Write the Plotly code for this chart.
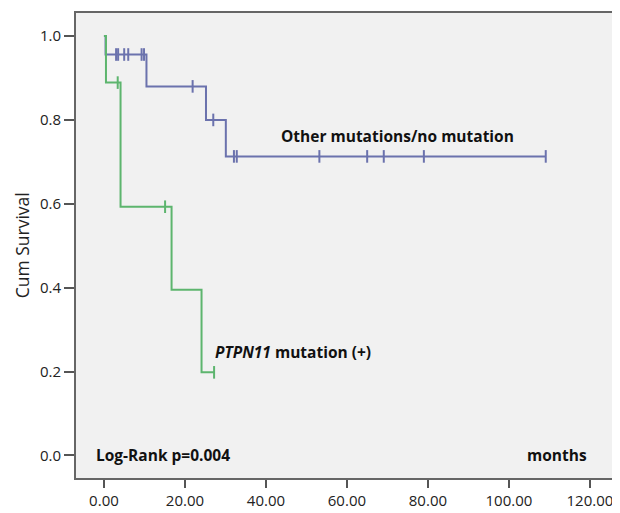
import plotly.graph_objects as go

# ---- data ----
other_times = [0, 0.4, 10.5, 25.2, 30.1, 109.1]
other_surv = [1.0, 0.956, 0.880, 0.800, 0.713, 0.713]
other_censor_times = [3.0, 3.5, 5.0, 6.0, 9.3, 9.9, 21.9, 27.0, 32.1, 32.8,
                      53.2, 65.0, 69.1, 79.0, 109.1]

ptpn_times = [0, 0.5, 4.1, 16.7, 24.1, 27.2]
ptpn_surv = [1.0, 0.889, 0.593, 0.395, 0.198, 0.198]
ptpn_censor_times = [3.4, 15.1, 27.2]

x_tickvals = [0, 20, 40, 60, 80, 100, 120]
x_ticktext = ["0.00", "20.00", "40.00", "60.00", "80.00", "100.00", "120.00"]
y_tickvals = [0.0, 0.2, 0.4, 0.6, 0.8, 1.0]
y_ticktext = ["0.0", "0.2", "0.4", "0.6", "0.8", "1.0"]


def surv_at(times, surv, t):
    s = surv[0]
    for ti, si in zip(times, surv):
        if ti <= t:
            s = si
    return s


BLUE = "#6b72ad"
GREEN = "#5db56e"
FONT = "Open Sans"

fig = go.Figure()
fig.add_trace(go.Scatter(x=other_times, y=other_surv, mode="lines",
                         line=dict(color=BLUE, width=2, shape="hv"),
                         showlegend=False, hoverinfo="skip"))
fig.add_trace(go.Scatter(x=other_censor_times,
                         y=[surv_at(other_times, other_surv, t) for t in other_censor_times],
                         mode="markers",
                         marker=dict(symbol="line-ns", size=9,
                                     line=dict(color=BLUE, width=2)),
                         showlegend=False))
fig.add_trace(go.Scatter(x=ptpn_times, y=ptpn_surv, mode="lines",
                         line=dict(color=GREEN, width=2, shape="hv"),
                         showlegend=False, hoverinfo="skip"))
fig.add_trace(go.Scatter(x=ptpn_censor_times,
                         y=[surv_at(ptpn_times, ptpn_surv, t) for t in ptpn_censor_times],
                         mode="markers",
                         marker=dict(symbol="line-ns", size=9,
                                     line=dict(color=GREEN, width=2)),
                         showlegend=False))

ann_font = dict(family=FONT, size=15.5, color="#111", weight="bold")
fig.add_annotation(x=43.3, y=0.761, xref="x", yref="y", text="Other mutations/no mutation",
                   showarrow=False, xanchor="left", yanchor="middle", font=ann_font)
fig.add_annotation(x=27.0, y=0.247, xref="x", yref="y",
                   text="<i>PTPN11</i> mutation (+)",
                   showarrow=False, xanchor="left", yanchor="middle", font=ann_font)
fig.add_annotation(x=-2.4, y=0.0, xref="x", yref="y", text="Log-Rank p=0.004",
                   showarrow=False, xanchor="left", yanchor="middle", font=ann_font)
fig.add_annotation(x=119.8, y=0.0, xref="x", yref="y", text="months",
                   showarrow=False, xanchor="right", yanchor="middle", font=ann_font)
fig.add_annotation(x=-0.1005, y=0.5, xref="paper", yref="paper", text="Cum Survival",
                   showarrow=False, textangle=-90, xanchor="center", yanchor="middle",
                   font=dict(family=FONT, size=17.5, color="#222"))

# The page body adds an 8px offset, so the figure is 8px smaller on each axis.
fig.update_layout(
    width=612, height=505,
    margin=dict(l=68, r=5, t=3, b=30),
    paper_bgcolor="white",
    plot_bgcolor="#f1f1f1",
    font=dict(family=FONT, size=15, color="#222"),
    xaxis=dict(range=[-6.9, 126.2], tickvals=x_tickvals, ticktext=x_ticktext,
               showgrid=False, zeroline=False, showline=True, mirror=True,
               linecolor="#666", linewidth=2, ticks="outside", ticklen=8,
               tickcolor="#555", tickwidth=2),
    yaxis=dict(range=[-0.054, 1.055], tickvals=y_tickvals, ticktext=y_ticktext,
               showgrid=False, zeroline=False, showline=True, mirror=True,
               linecolor="#666", linewidth=2, ticks="outside", ticklen=10,
               tickcolor="#555", tickwidth=2),
)

fig.write_html("out.html")
